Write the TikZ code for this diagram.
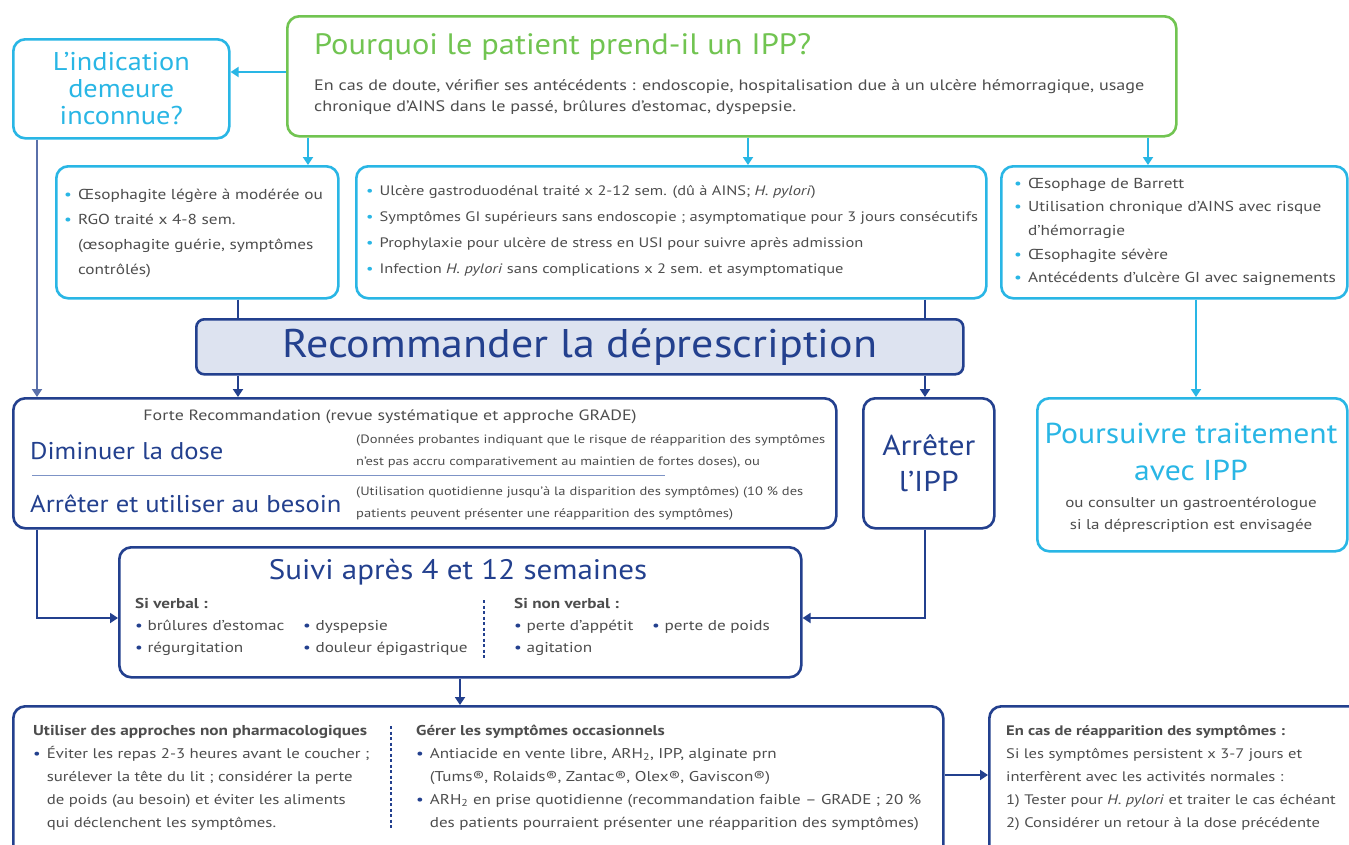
\documentclass[tikz,border=0pt]{standalone}
\usepackage{fontspec}
\setmainfont[FakeStretch=1.2]{PT Sans}
\newfontfamily\tfont[FakeStretch=1.1]{PT Sans}
\usetikzlibrary{arrows.meta}
\definecolor{cy}{HTML}{29B6E5}
\definecolor{gr}{HTML}{71C451}
\definecolor{db}{HTML}{23408E}
\definecolor{fillb}{HTML}{DDE3F0}
\definecolor{tg}{HTML}{4D4D4D}
\definecolor{sepc}{HTML}{7D93C6}
\newcommand{\cbul}{\textcolor{cy}{•}}
\newcommand{\dbul}{\textcolor{db}{•}}
\begin{document}
\begin{tikzpicture}[x=1pt,y=-1pt,
  box/.style={draw, rounded corners=12pt, line width=2.6pt, anchor=north west, inner sep=0pt, align=center},
  cbox/.style={box, draw=cy},
  bbox/.style={box, draw=db},
  gbox/.style={box, draw=gr},
  txt/.style={anchor=base west, inner sep=0pt, text=tg},
  ctxt/.style={anchor=base, inner sep=0pt},
  tip/.style={-{Triangle[length=8pt,width=10pt]}},
  carr/.style={draw=cy, line width=1.8pt, tip},
  barr/.style={draw=db, line width=1.8pt, tip},
  bline/.style={draw=db, line width=1.8pt},
]
\useasboundingbox (0,0) rectangle (1349,844);
\clip (0,0) rectangle (1349,844);
\fill[white] (0,0) rectangle (1349,844);

% helper coordinates
\coordinate (c72) at (0,72);
\coordinate (c618) at (0,618);
\coordinate (c775) at (0,775);
\coordinate (x37) at (37,0);
\coordinate (x238) at (238,0);
\coordinate (x308) at (308,0);
\coordinate (x460) at (460,0);
\coordinate (x748) at (748,0);
\coordinate (x925) at (925,0);
\coordinate (x1148) at (1148,0);
\coordinate (x1196) at (1196,0);

% boxes
\node[cbox, minimum width=216, minimum height=99, text=cy, font=\tfont\fontsize{25.7}{27}\selectfont] (ind) at (12,38) {L’indication\\demeure\\inconnue?};
\node[gbox, minimum width=889, minimum height=120] (pq) at (286,15) {};
\node[cbox, minimum width=282, minimum height=132] (boxA) at (55,165) {};
\node[cbox, minimum width=630, minimum height=132] (boxB) at (355,165) {};
\node[cbox, minimum width=346, minimum height=132] (boxC) at (1000,165) {};
\node[bbox, rounded corners=8pt, fill=fillb, minimum width=767, minimum height=55, text=db, font=\tfont\fontsize{40}{42}\selectfont] (rec) at (195,318) {Recommander la déprescription};
\node[bbox, minimum width=823, minimum height=130] (dim) at (12,397) {};
\node[bbox, minimum width=131, minimum height=130, text=db, font=\tfont\fontsize{28.7}{36}\selectfont] (arr) at (862,397) {Arrêter\\l’IPP};
\node[cbox, minimum width=310, minimum height=153] (pou) at (1036,397) {};
\node[bbox, minimum width=682, minimum height=130] (sui) at (118,546) {};
\node[bbox, minimum width=930, minimum height=160] (bot) at (12,705) {};
\node[bbox, minimum width=390, minimum height=160] (last) at (988,705) {};

% top green box text
\node[txt, text=gr, font=\tfont\fontsize{29.5}{30}\selectfont] (pqt) at (314,54) {Pourquoi le patient prend-il un IPP?};
\node[txt, font=\fontsize{15.1}{21}\selectfont] (pqb) at (314,90) {\begin{tabular}[t]{@{}l@{}}En cas de doute, vérifier ses antécédents : endoscopie, hospitalisation due à un ulcère hémorragique, usage\\chronique d’AINS dans le passé, brûlures d’estomac, dyspepsie.\end{tabular}};

% box A
\node[txt, font=\fontsize{14.4}{25}\selectfont] (tA) at (64,199) {\begin{tabular}[t]{@{}l@{\hspace{6pt}}l@{}}\cbul & Œsophagite légère à modérée ou\\ \cbul & RGO traité x 4-8 sem.\\ & (œsophagite guérie, symptômes\\ & contrôlés)\end{tabular}};
% box B
\node[txt, font=\fontsize{13.7}{26.3}\selectfont] (tB) at (366,195) {\begin{tabular}[t]{@{}l@{\hspace{6pt}}l@{}}\cbul & Ulcère gastroduodénal traité x 2-12 sem. (dû à AINS; \textit{H. pylori})\\ \cbul & Symptômes GI supérieurs sans endoscopie ; asymptomatique pour 3 jours consécutifs\\ \cbul & Prophylaxie pour ulcère de stress en USI pour suivre après admission\\ \cbul & Infection \textit{H. pylori} sans complications x 2 sem. et asymptomatique\end{tabular}};
% box C
\node[txt, font=\fontsize{14.4}{23.7}\selectfont] (tC) at (1014,188) {\begin{tabular}[t]{@{}l@{\hspace{6pt}}l@{}}\cbul & Œsophage de Barrett\\ \cbul & Utilisation chronique  d’AINS avec risque\\ & d’hémorragie\\ \cbul & Œsophagite sévère\\ \cbul & Antécédents d’ulcère GI avec saignements\end{tabular}};

% Diminuer box
\node[ctxt, text=tg, font=\fontsize{14.9}{18}\selectfont] (forte) at (390,420) {Forte Recommandation (revue systématique et approche GRADE)};
\node[txt, text=db, font=\tfont\fontsize{24.2}{28}\selectfont] (dimt) at (30,459) {Diminuer la dose};
\node[txt, text=db, font=\tfont\fontsize{24.2}{28}\selectfont] (arrt) at (30,512) {Arrêter et utiliser au besoin};
\node[txt, font=\fontsize{12.1}{22}\selectfont] (dims1) at (356,443) {\begin{tabular}[t]{@{}l@{}}(Données probantes indiquant que le risque de réapparition des symptômes\\n’est pas accru comparativement au maintien de fortes doses), ou\end{tabular}};
\node[txt, font=\fontsize{12.1}{22}\selectfont] (dims2) at (356,495) {\begin{tabular}[t]{@{}l@{}}(Utilisation quotidienne jusqu’à la disparition des symptômes) (10 \% des\\patients peuvent présenter une réapparition des symptômes)\end{tabular}};
\draw[sepc, line width=1pt] (32,475) -- (665,475);

% Poursuivre
\node[ctxt, text=cy, font=\tfont\fontsize{28.8}{37}\selectfont] (pout) at (1191,443) {\begin{tabular}[t]{@{}c@{}}Poursuivre traitement\\avec IPP\end{tabular}};
\node[ctxt, text=tg, font=\fontsize{14.2}{22}\selectfont] (pous) at (1191,507) {\begin{tabular}[t]{@{}c@{}}ou consulter un gastroentérologue\\si la déprescription est envisagée\end{tabular}};

% Suivi
\node[ctxt, text=db, font=\tfont\fontsize{28.2}{30}\selectfont] (suit) at (458,579) {Suivi après 4 et 12 semaines};
\node[txt, font=\fontsize{14.3}{22}\selectfont] (suiL) at (135,608) {\begin{tabular}[t]{@{}p{168pt}@{}l@{}}\multicolumn{2}{@{}l@{}}{\bfseries Si verbal :}\\ \dbul\ brûlures d’estomac & \dbul\ dyspepsie\\ \dbul\ régurgitation & \dbul\ douleur épigastrique\end{tabular}};
\node[txt, font=\fontsize{14.3}{22}\selectfont] (suiR) at (514,608) {\begin{tabular}[t]{@{}p{138pt}@{}l@{}}\multicolumn{2}{@{}l@{}}{\bfseries Si non verbal :}\\ \dbul\ perte d’appétit & \dbul\ perte de poids\\ \dbul\ agitation & \end{tabular}};
\draw[db, line width=1.5pt, dash pattern=on 3pt off 2.5pt] (484,600) -- (484,660);

% bottom box
\node[txt, font=\fontsize{14}{23}\selectfont] (botL) at (33,735) {\begin{tabular}[t]{@{}l@{\hspace{6pt}}l@{}}\multicolumn{2}{@{}l@{}}{\fontsize{14.35}{23}\selectfont\bfseries Utiliser des approches non pharmacologiques}\\ \dbul & Éviter les repas 2-3 heures avant le coucher ;\\ & surélever la tête du lit ; considérer la perte\\ & de poids (au besoin) et éviter les aliments\\ & qui déclenchent les symptômes.\end{tabular}};
\node[txt, font=\fontsize{14.2}{23}\selectfont] (botR) at (416,735) {\begin{tabular}[t]{@{}l@{\hspace{6pt}}l@{}}\multicolumn{2}{@{}l@{}}{\bfseries Gérer les symptômes occasionnels}\\ \dbul & Antiacide en vente libre, ARH\textsubscript{2}, IPP, alginate prn\\ & (Tums®, Rolaids®, Zantac®, Olex®, Gaviscon®)\\ \dbul & ARH\textsubscript{2} en prise quotidienne (recommandation faible – GRADE ; 20 \%\\ & des patients pourraient présenter une réapparition des symptômes)\end{tabular}};
\draw[db, line width=1.5pt, dash pattern=on 3pt off 2.5pt] (391,726) -- (391,830);
\node[txt, font=\fontsize{13.8}{23}\selectfont] (lastt) at (1006,735) {\begin{tabular}[t]{@{}l@{}}{\bfseries En cas de réapparition des symptômes :}\\ Si les symptômes persistent x 3-7 jours et\\ interfèrent avec les activités normales :\\ 1) Tester pour \textit{H. pylori} et traiter le cas échéant\\ 2) Considérer un retour à la dose précédente\end{tabular}};

% connectors
\draw[carr] (pq.west |- c72) -- (ind.east |- c72);
\draw[carr] (pq.south -| x308) -- (boxA.north -| x308);
\draw[carr] (pq.south -| x748) -- (boxB.north -| x748);
\draw[carr] (pq.south -| x1148) -- (boxC.north -| x1148);
\draw[barr, draw=db!75] (ind.south -| x37) -- (dim.north -| x37);
\draw[bline] (boxA.south -| x238) -- (rec.north -| x238);
\draw[bline] (boxB.south -| x925) -- (rec.north -| x925);
\draw[barr] (rec.south -| x238) -- (dim.north -| x238);
\draw[barr] (rec.south -| x925) -- (arr.north -| x925);
\draw[carr] (boxC.south -| x1196) -- (pou.north -| x1196);
\draw[barr] (dim.south -| x37) |- (sui.west |- c618);
\draw[barr] (arr.south -| x925) |- (sui.east |- c618);
\draw[barr] (sui.south -| x460) -- (bot.north -| x460);
\draw[barr] (bot.east |- c775) -- (last.west |- c775);
\end{tikzpicture}
\end{document}
